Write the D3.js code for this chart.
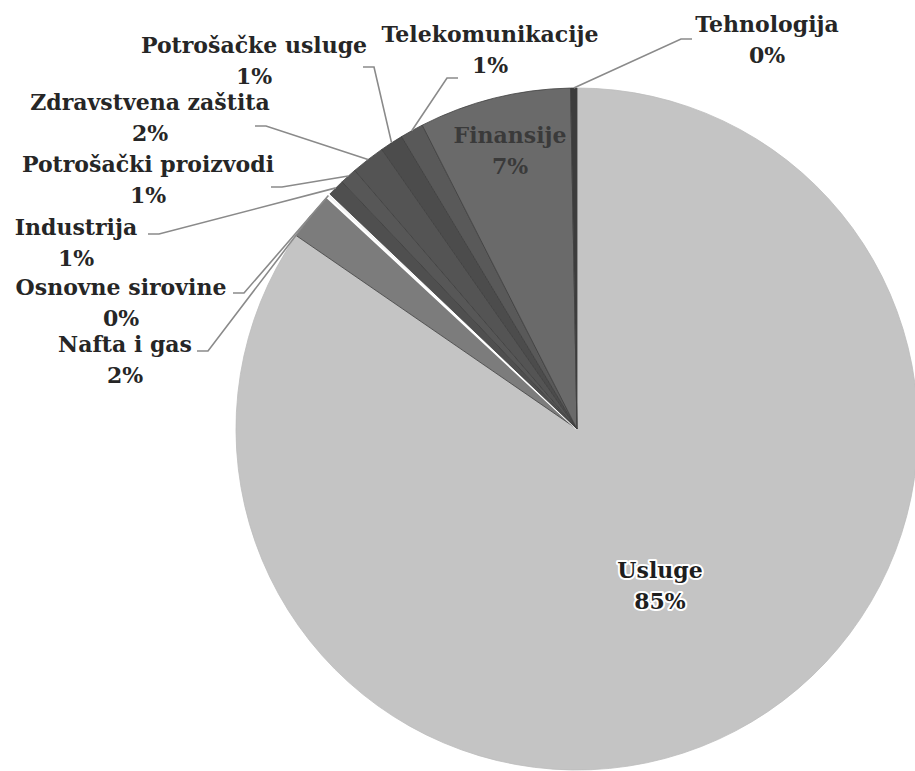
<!DOCTYPE html>
<html>
<head>
<meta charset="utf-8">
<script src="https://cdn.jsdelivr.net/npm/d3@7/dist/d3.min.js"></script>
<style>
  html, body { margin: 0; padding: 0; background: #fff; }
  svg { display: block; }
</style>
</head>
<body>
<svg id="chart" width="915" height="771"></svg>
<script>
// ---- data ----
const categories = ["Usluge", "Nafta i gas", "Osnovne sirovine", "Industrija",
  "Potrošački proizvodi", "Zdravstvena zaštita", "Potrošačke usluge",
  "Telekomunikacije", "Finansije", "Tehnologija"];
const values = [84.6, 2.3, 0.2, 0.8, 0.8, 1.6, 1.1, 1.1, 7.2, 0.3];
const percentLabels = ["85%", "2%", "0%", "1%", "1%", "2%", "1%", "1%", "7%", "0%"];

// ---- layout / style ----
const W = 915, H = 771;
const cx = 577, cy = 429, R = 341;
const colors = ["#c4c4c4", "#7c7c7c", "#f4f4f4", "#4f4f4f", "#575757",
  "#545454", "#4c4c4c", "#595959", "#6a6a6a", "#3c3c3c"];
// outside label positions (centre x, first baseline y), leader start x/y
const outside = {
  "Tehnologija":          {x: 767, y: 32, lx: 692, ly: 39, side: "left"},
  "Telekomunikacije":     {x: 490, y: 42, lx: 458, ly: 78, side: "left"},
  "Potrošačke usluge":    {x: 254, y: 53, lx: 363, ly: 67, side: "right"},
  "Zdravstvena zaštita":  {x: 150, y: 110, lx: 255, ly: 126, side: "right"},
  "Potrošački proizvodi": {x: 148, y: 172, lx: 271, ly: 187, side: "right"},
  "Industrija":           {x: 76, y: 235, lx: 148, ly: 234, side: "right"},
  "Osnovne sirovine":     {x: 121, y: 295, lx: 233, ly: 293, side: "right"},
  "Nafta i gas":          {x: 125, y: 352, lx: 197, ly: 351, side: "right"}
};
const inside = {
  "Finansije": {x: 510, y: 143, color: "#3a3a3a", halo: false},
  "Usluge":    {x: 660, y: 578, color: "#1e1e1e", halo: true}
};
const fontFamily = "'DejaVu Serif', 'Liberation Serif', serif";
const fontSize = 22, lineH = 31;

const svg = d3.select("#chart");
const g = svg.append("g").attr("transform", `translate(${cx},${cy})`);

const pie = d3.pie().sort(null).value(d => d.v).startAngle(0).endAngle(2 * Math.PI);
const rows = categories.map((c, i) => ({c, v: values[i], p: percentLabels[i], col: colors[i]}));
const arcs = pie(rows);
const arcGen = d3.arc().innerRadius(0).outerRadius(R);

g.selectAll("path.slice").data(arcs).enter().append("path")
  .attr("class", "slice")
  .attr("d", arcGen)
  .attr("fill", d => d.data.col)
  .attr("stroke", d => d.data.c === "Osnovne sirovine" ? "#ffffff" : (d.data.c === "Usluge" ? "#bdbdbd" : "#404040"))
  .attr("stroke-width", d => d.data.c === "Osnovne sirovine" ? 2 : 0.8);

// leader lines + outside labels
arcs.forEach(d => {
  const L = outside[d.data.c];
  if (!L) return;
  const mid = (d.startAngle + d.endAngle) / 2;
  const ex = cx + R * Math.sin(mid), ey = cy - R * Math.cos(mid);
  const kx = L.side === "right" ? L.lx + 11 : L.lx - 11;
  svg.append("polyline")
    .attr("points", `${L.lx},${L.ly} ${kx},${L.ly} ${ex},${ey}`)
    .attr("fill", "none").attr("stroke", "#8a8a8a").attr("stroke-width", 1.6);
  const t = svg.append("text").attr("text-anchor", "middle")
    .attr("font-family", fontFamily).attr("font-weight", "bold")
    .attr("font-size", fontSize).attr("fill", "#262626");
  t.append("tspan").attr("x", L.x).attr("y", L.y).text(d.data.c);
  t.append("tspan").attr("x", L.x).attr("y", L.y + lineH).text(d.data.p);
});

// inside labels
arcs.forEach(d => {
  const L = inside[d.data.c];
  if (!L) return;
  const t = svg.append("text").attr("text-anchor", "middle")
    .attr("font-family", fontFamily).attr("font-weight", "bold")
    .attr("font-size", fontSize).attr("fill", L.color);
  if (L.halo) t.attr("stroke", "#ffffff").attr("stroke-width", 4)
    .attr("paint-order", "stroke").attr("stroke-linejoin", "round");
  t.append("tspan").attr("x", L.x).attr("y", L.y).text(d.data.c);
  t.append("tspan").attr("x", L.x).attr("y", L.y + lineH).text(d.data.p);
});
</script>
</body>
</html>
